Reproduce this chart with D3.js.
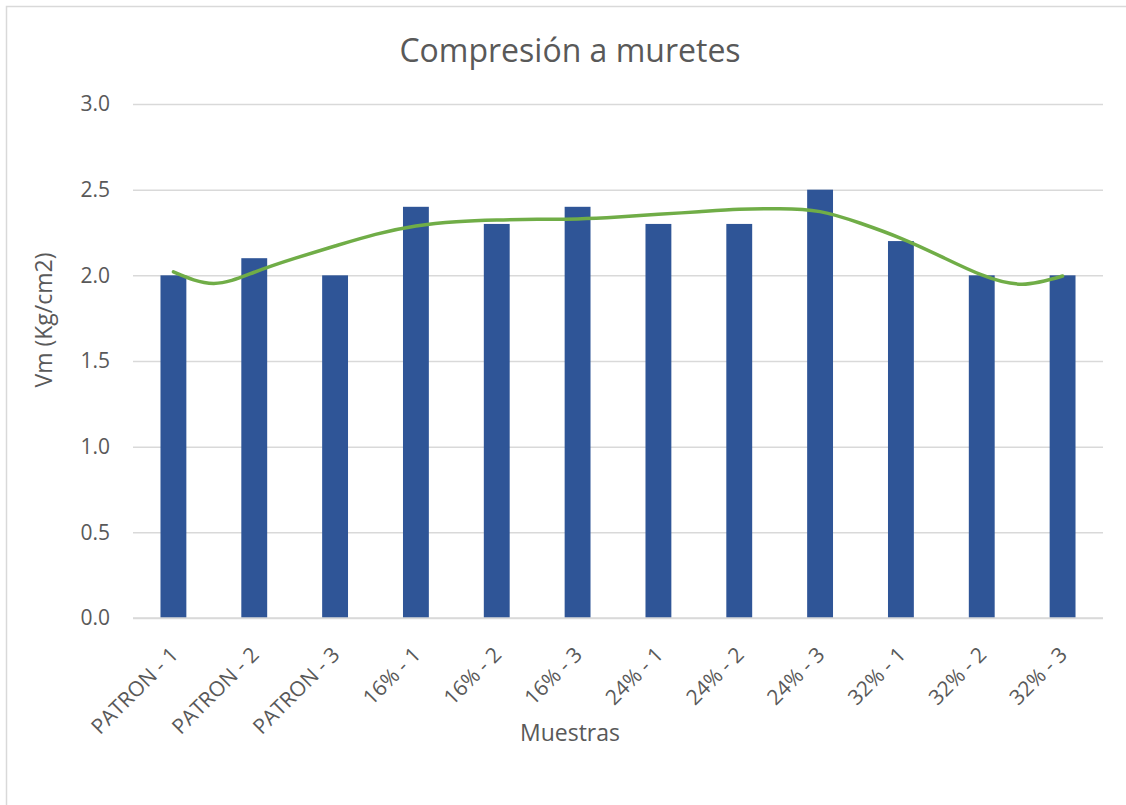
<!DOCTYPE html>
<html>
<head>
<meta charset="utf-8">
<script src="https://cdn.jsdelivr.net/npm/d3@7"></script>
<style>
  body { margin: 0; background: #fff; }
  svg { display: block; }
  text { font-family: "Open Sans", "Liberation Sans", sans-serif; fill: #595959; }
</style>
</head>
<body>
<svg id="chart" width="1126" height="805"></svg>
<script>
// Samples and measured Vm values
const categories = ["PATRON - 1", "PATRON - 2", "PATRON - 3", "16% - 1", "16% - 2", "16% - 3",
                    "24% - 1", "24% - 2", "24% - 3", "32% - 1", "32% - 2", "32% - 3"];
const values = [2.0, 2.1, 2.0, 2.4, 2.3, 2.4, 2.3, 2.3, 2.5, 2.2, 2.0, 2.0];
const yTicks = [0, 0.5, 1.0, 1.5, 2.0, 2.5, 3.0];

// Trend curve, sampled at every half category step (position 1 = first sample)
const trendPos = [1, 1.5, 2, 2.5, 3, 3.5, 4, 4.5, 5, 5.5, 6, 6.5, 7, 7.5, 8, 8.5, 9, 9.5, 10, 10.5, 11, 11.5, 12];
const trendVal = [2.02, 1.953, 2.018, 2.099, 2.171, 2.239, 2.288, 2.313, 2.323, 2.327, 2.329, 2.340,
                  2.356, 2.371, 2.385, 2.389, 2.372, 2.304, 2.216, 2.109, 2.002, 1.948, 1.996];

const svg = d3.select("#chart");
const plot = { left: 133, right: 1103, top: 104, bottom: 618 };

// chart frame
svg.append("rect")
  .attr("x", 6.5).attr("y", 6.5)
  .attr("width", 1140).attr("height", 820)
  .attr("fill", "none").attr("stroke", "#d9d9d9").attr("stroke-width", 1.5);

const x = d3.scaleBand().domain(categories).range([plot.left, plot.right]).paddingInner(0.68).paddingOuter(0.34);
const y = d3.scaleLinear().domain([0, 3]).range([plot.bottom, plot.top]);
const xPos = d3.scaleLinear().domain([1, 12])
  .range([x(categories[0]) + x.bandwidth() / 2, x(categories[11]) + x.bandwidth() / 2]);

// gridlines and y axis labels
const yAxis = d3.axisLeft(y).tickValues(yTicks).tickFormat(d3.format(".1f"))
  .tickSize(-(plot.right - plot.left)).tickPadding(23);
const gy = svg.append("g").attr("transform", `translate(${plot.left},0)`).call(yAxis);
gy.select(".domain").remove();
gy.selectAll(".tick line").attr("stroke", "#d9d9d9").attr("stroke-width", 1.5);
gy.selectAll(".tick text").attr("font-size", 21).attr("fill", "#595959")
  .style("font-family", '"Open Sans", sans-serif');

// bars
svg.append("g").selectAll("rect").data(values).join("rect")
  .attr("x", (d, i) => x(categories[i]))
  .attr("y", d => y(d))
  .attr("width", x.bandwidth())
  .attr("height", d => y(0) - y(d))
  .attr("fill", "#2f5597");

// trend line
const line = d3.line().x(d => xPos(d[0])).y(d => y(d[1])).curve(d3.curveNatural);
svg.append("path")
  .datum(trendPos.map((p, i) => [p, trendVal[i]]))
  .attr("d", line)
  .attr("fill", "none").attr("stroke", "#70ad47").attr("stroke-width", 3.5)
  .attr("stroke-linecap", "round");

// x axis line
svg.append("line")
  .attr("x1", plot.left).attr("x2", plot.right)
  .attr("y1", plot.bottom).attr("y2", plot.bottom)
  .attr("stroke", "#d9d9d9").attr("stroke-width", 1.5);

// rotated category labels
svg.append("g").selectAll("text").data(categories).join("text")
  .attr("transform", d => `translate(${x(d) + x.bandwidth() / 2 + 6},${plot.bottom + 38}) rotate(-45)`)
  .attr("text-anchor", "end")
  .attr("font-size", 21)
  .text(d => d);

// titles
svg.append("text").attr("x", 570).attr("y", 62).attr("text-anchor", "middle")
  .attr("font-size", 32).text("Compresión a muretes");
svg.append("text").attr("x", 570).attr("y", 741).attr("text-anchor", "middle")
  .attr("font-size", 23).text("Muestras");
svg.append("text").attr("transform", "translate(52,320) rotate(-90)").attr("text-anchor", "middle")
  .attr("font-size", 23).text("Vm (Kg/cm2)");
</script>
</body>
</html>
